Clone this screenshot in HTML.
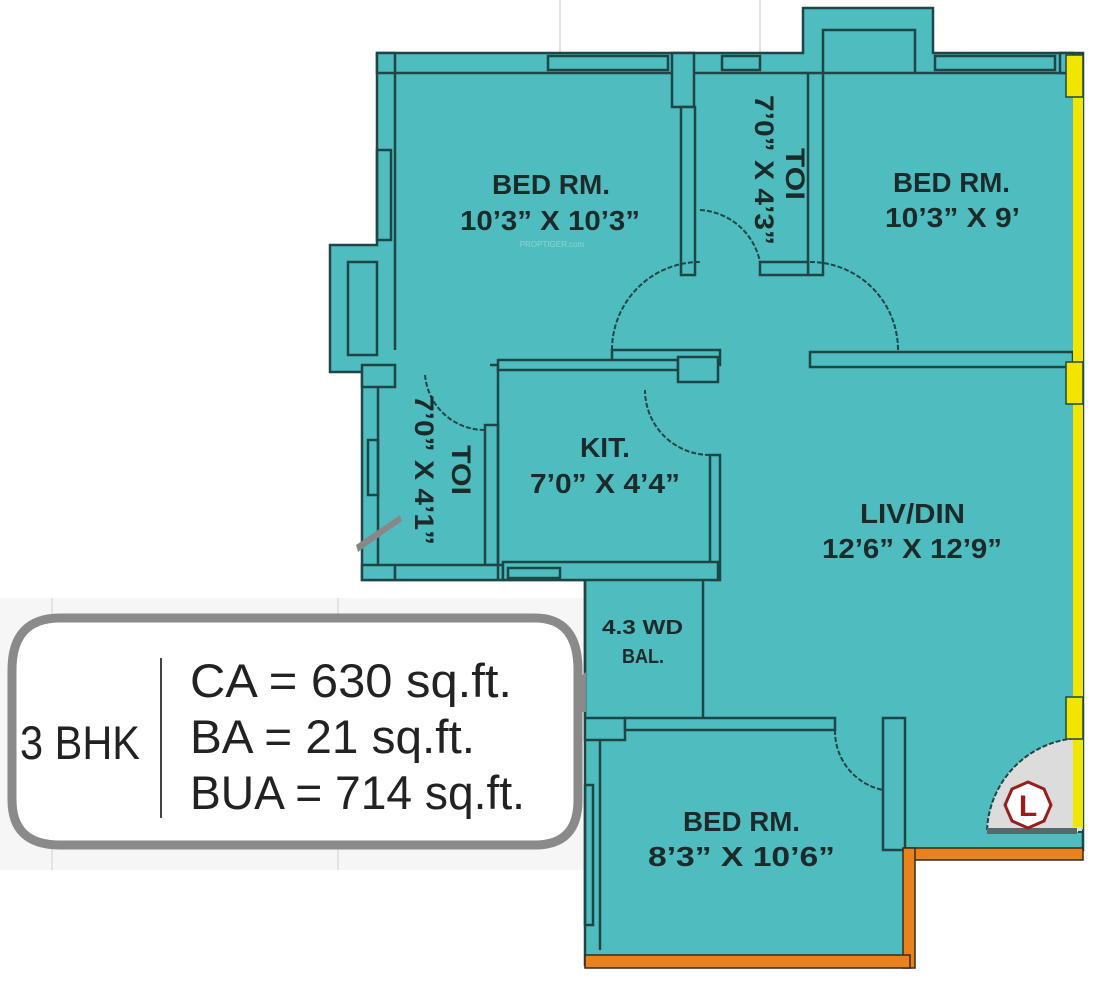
<!DOCTYPE html>
<html><head><meta charset="utf-8"><style>
html,body{margin:0;padding:0;background:#fff;}
svg{display:block;}
.t{font-family:"Liberation Sans",sans-serif;font-weight:bold;fill:#1d2a2a;}
.n{font-family:"Liberation Sans",sans-serif;fill:#222;}
</style></head><body>
<svg width="1111" height="986" viewBox="0 0 1111 986" xmlns="http://www.w3.org/2000/svg">
<rect width="1111" height="986" fill="#fff"/>
<rect x="0" y="598" width="585" height="272" fill="#f6f6f6"/>
<g stroke="#e2e2e2" stroke-width="2"><line x1="52" y1="598" x2="52" y2="870"/><line x1="338" y1="598" x2="338" y2="870"/><line x1="560" y1="0" x2="560" y2="52"/><line x1="760" y1="0" x2="760" y2="52"/></g>
<g fill="#4fbdbf" stroke="#1e4646" stroke-width="2.5">
<path d="M377 53 H803 V8 H933 V53 H1083 V850 H905 V965 H585 V580 H362 V372 H330 V245 H377 Z"/>
<path d="M823 73 V30 H915 V73" fill="none"/>
<path d="M395 73 H680 M695 73 H808 M823 73 H1073" fill="none"/>
<rect x="377" y="53" width="18" height="20"/>
<rect x="672" y="53" width="22" height="54"/>
<rect x="1060" y="53" width="13" height="20"/>
<rect x="548" y="56" width="120" height="14" fill="none"/>
<rect x="722" y="56" width="38" height="14" fill="none"/>
<rect x="935" y="56" width="120" height="14" fill="none"/>
<path d="M395 73 V350" fill="none"/>
<rect x="377" y="150" width="14" height="90" fill="none"/>
<path d="M348 262 H377 V355 H348 Z" fill="none"/>
<rect x="681" y="107" width="14" height="168"/>
<rect x="808" y="73" width="15" height="202"/>
<rect x="760" y="262" width="48" height="13"/>
<rect x="612" y="350" width="108" height="15"/>
<rect x="810" y="352" width="263" height="15"/>
<rect x="362" y="365" width="33" height="22"/>
<path d="M378 387 V565" fill="none"/>
<rect x="362" y="565" width="33" height="15"/>
<rect x="368" y="440" width="10" height="55" fill="none"/>
<rect x="485" y="425" width="13" height="140"/>
<rect x="395" y="565" width="108" height="15"/>
<path d="M490 365 H688 M498 365 V580" fill="none"/>
<rect x="498" y="360" width="180" height="10"/>
<rect x="678" y="357" width="40" height="25"/>
<rect x="710" y="455" width="10" height="125"/>
<rect x="503" y="562" width="215" height="18"/>
<rect x="508" y="568" width="52" height="10" fill="none"/>
<path d="M585 580 V718 M703 580 V718" fill="none"/>
<rect x="585" y="718" width="40" height="22"/>
<rect x="625" y="718" width="210" height="12"/>
<path d="M600 740 V950" fill="none"/>
<rect x="585" y="785" width="8" height="140" fill="none"/>
<rect x="883" y="718" width="22" height="132"/>
<path d="M905 850 V965" fill="none"/>
</g>
<g fill="none" stroke="#1e4646" stroke-width="2" stroke-dasharray="5 2">
<path d="M612 350 A 88 88 0 0 1 700 262"/>
<path d="M810 262 A 88 88 0 0 1 898 350"/>
<path d="M700 210 A 65 65 0 0 1 760 262"/>
<path d="M425 375 A 60 60 0 0 0 485 430"/>
<path d="M710 455 A 65 65 0 0 1 645 390"/>
<path d="M835 730 A 60 60 0 0 0 883 790"/>
</g>
<path d="M1083 832 H987 A 96 96 0 0 1 1083 738 Z" fill="#dcdcdc" stroke="#1e4646" stroke-width="2" stroke-dasharray="5 2"/>
<rect x="987" y="828" width="90" height="6" fill="#556b6b"/>
<polygon points="1028,782 1044,789 1051,805 1044,821 1028,828 1012,821 1005,805 1012,789" fill="#fff" stroke="#9b1c1c" stroke-width="3"/>
<text x="1028" y="816" text-anchor="middle" font-family="Liberation Sans,sans-serif" font-weight="bold" font-size="30" fill="#9b1c1c">L</text>
<rect x="1073" y="55" width="10" height="772" fill="#f2e600"/>
<rect x="1066" y="55" width="17" height="42" fill="#f2e600" stroke="#1e4646" stroke-width="1.5"/>
<rect x="1066" y="362" width="17" height="42" fill="#f2e600" stroke="#1e4646" stroke-width="1.5"/>
<rect x="1066" y="697" width="17" height="42" fill="#f2e600" stroke="#1e4646" stroke-width="1.5"/>
<g fill="#e8821f" stroke="#3a2a1a" stroke-width="1.5">
<rect x="905" y="848" width="178" height="12"/>
<rect x="903" y="848" width="12" height="120"/>
<rect x="585" y="955" width="325" height="13"/>
</g>
<polygon points="356,545 400,515 402,521 358,552" fill="#888"/>
<g class="t" font-size="28">
<text x="492" y="194" textLength="118" lengthAdjust="spacingAndGlyphs">BED RM.</text>
<text x="460" y="230" textLength="180" lengthAdjust="spacingAndGlyphs">10’3” X 10’3”</text>
<text x="893" y="192" textLength="117" lengthAdjust="spacingAndGlyphs">BED RM.</text>
<text x="885" y="227" textLength="135" lengthAdjust="spacingAndGlyphs">10’3” X 9’</text>
<text x="580" y="457" textLength="50" lengthAdjust="spacingAndGlyphs">KIT.</text>
<text x="530" y="493" textLength="150" lengthAdjust="spacingAndGlyphs">7’0” X 4’4”</text>
<text x="860" y="523" textLength="105" lengthAdjust="spacingAndGlyphs">LIV/DIN</text>
<text x="822" y="558" textLength="180" lengthAdjust="spacingAndGlyphs">12’6” X 12’9”</text>
<text x="683" y="831" textLength="117" lengthAdjust="spacingAndGlyphs">BED RM.</text>
<text x="648" y="866" textLength="187" lengthAdjust="spacingAndGlyphs">8’3” X 10’6”</text>
<text x="602" y="634" font-size="20" textLength="81" lengthAdjust="spacingAndGlyphs">4.3 WD</text>
<text x="622" y="663" font-size="20" textLength="42" lengthAdjust="spacingAndGlyphs">BAL.</text>
<text transform="translate(755,95) rotate(90)" font-size="27" textLength="150" lengthAdjust="spacingAndGlyphs">7’0” X 4’3”</text>
<text transform="translate(786,148) rotate(90)" font-size="27" textLength="52" lengthAdjust="spacingAndGlyphs">TOI</text>
<text transform="translate(415,395) rotate(90)" font-size="27" textLength="150" lengthAdjust="spacingAndGlyphs">7’0” X 4’1”</text>
<text transform="translate(452,445) rotate(90)" font-size="27" textLength="50" lengthAdjust="spacingAndGlyphs">TOI</text>
</g>
<text x="552" y="247" text-anchor="middle" font-family="Liberation Sans,sans-serif" font-size="8" fill="#8fd3d3">PROPTIGER.com</text>
<path d="M60 618 H535 Q578 618 578 670 V800 Q578 845 535 845 H60 Q12 845 12 800 V670 Q12 618 60 618 Z" fill="#fff" stroke="#8a8a8a" stroke-width="9"/>
<polygon points="576,680 586,672 586,712 576,712" fill="#8a8a8a"/>
<line x1="161" y1="658" x2="161" y2="818" stroke="#444" stroke-width="2"/>
<g class="n" font-size="47">
<text x="20" y="759" textLength="120" lengthAdjust="spacingAndGlyphs">3 BHK</text>
<text x="190" y="697" textLength="322" lengthAdjust="spacingAndGlyphs">CA = 630 sq.ft.</text>
<text x="190" y="753" textLength="285" lengthAdjust="spacingAndGlyphs">BA = 21 sq.ft.</text>
<text x="190" y="809" textLength="335" lengthAdjust="spacingAndGlyphs">BUA = 714 sq.ft.</text>
</g>
</svg>
</body></html>
